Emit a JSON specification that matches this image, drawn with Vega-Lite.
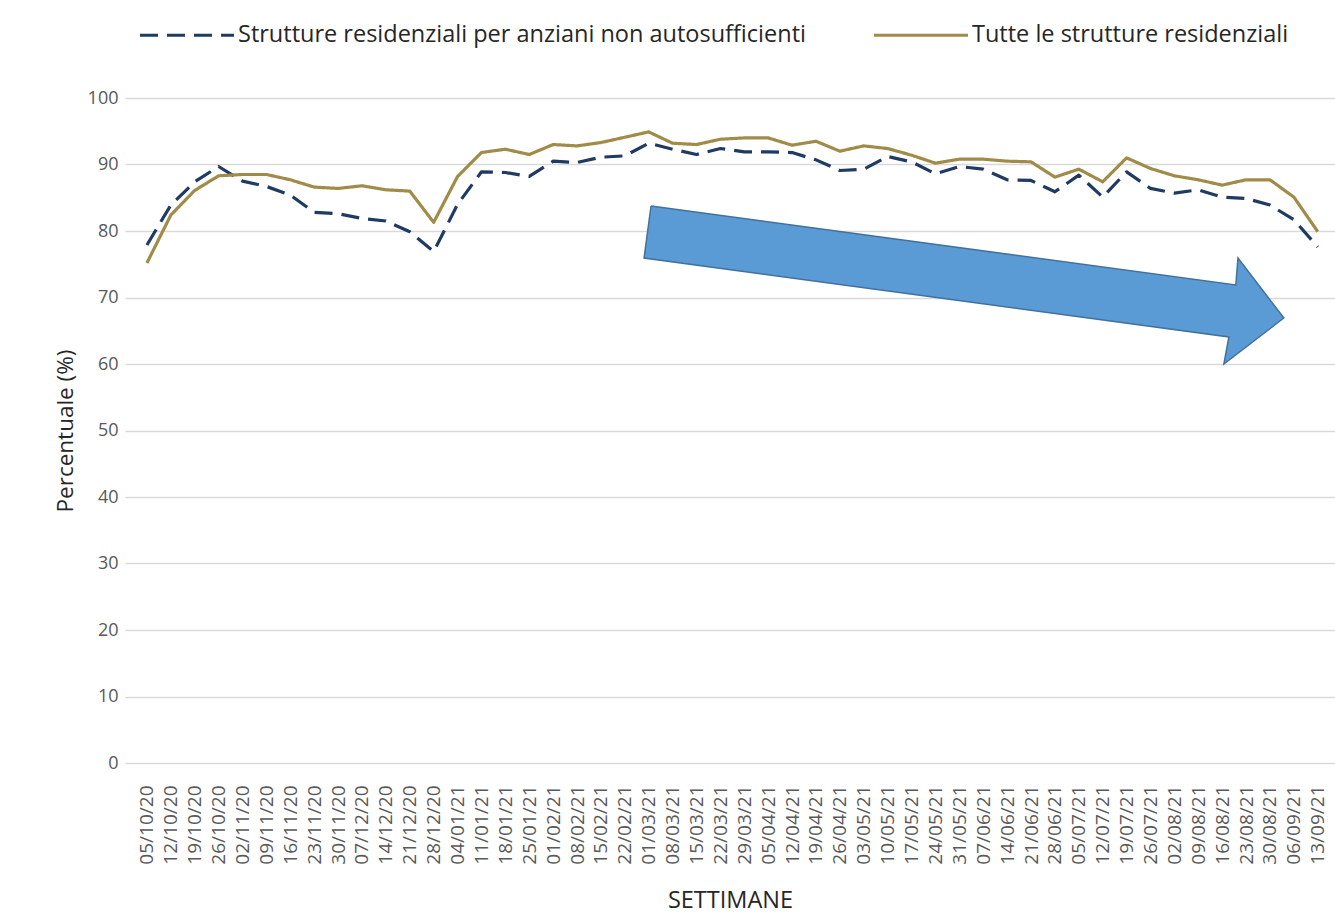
{
  "$schema": "https://vega.github.io/schema/vega-lite/v6.json",
  "width": 1210,
  "height": 665,
  "autosize": {"type": "none"},
  "padding": {"left": 125, "top": 98, "right": 0, "bottom": 156},
  "background": "white",
  "config": {"view": {"stroke": null}, "font": "Open Sans"},
  "datasets": {
    "serie": [
      {"settimana": "05/10/20", "serie": "Strutture residenziali per anziani non autosufficienti", "valore": 77.9},
      {"settimana": "12/10/20", "serie": "Strutture residenziali per anziani non autosufficienti", "valore": 83.9},
      {"settimana": "19/10/20", "serie": "Strutture residenziali per anziani non autosufficienti", "valore": 87.4},
      {"settimana": "26/10/20", "serie": "Strutture residenziali per anziani non autosufficienti", "valore": 89.7},
      {"settimana": "02/11/20", "serie": "Strutture residenziali per anziani non autosufficienti", "valore": 87.5},
      {"settimana": "09/11/20", "serie": "Strutture residenziali per anziani non autosufficienti", "valore": 86.7},
      {"settimana": "16/11/20", "serie": "Strutture residenziali per anziani non autosufficienti", "valore": 85.4},
      {"settimana": "23/11/20", "serie": "Strutture residenziali per anziani non autosufficienti", "valore": 82.8},
      {"settimana": "30/11/20", "serie": "Strutture residenziali per anziani non autosufficienti", "valore": 82.6},
      {"settimana": "07/12/20", "serie": "Strutture residenziali per anziani non autosufficienti", "valore": 81.9},
      {"settimana": "14/12/20", "serie": "Strutture residenziali per anziani non autosufficienti", "valore": 81.5},
      {"settimana": "21/12/20", "serie": "Strutture residenziali per anziani non autosufficienti", "valore": 79.9},
      {"settimana": "28/12/20", "serie": "Strutture residenziali per anziani non autosufficienti", "valore": 76.9},
      {"settimana": "04/01/21", "serie": "Strutture residenziali per anziani non autosufficienti", "valore": 84.0},
      {"settimana": "11/01/21", "serie": "Strutture residenziali per anziani non autosufficienti", "valore": 88.9},
      {"settimana": "18/01/21", "serie": "Strutture residenziali per anziani non autosufficienti", "valore": 88.8},
      {"settimana": "25/01/21", "serie": "Strutture residenziali per anziani non autosufficienti", "valore": 88.2},
      {"settimana": "01/02/21", "serie": "Strutture residenziali per anziani non autosufficienti", "valore": 90.5},
      {"settimana": "08/02/21", "serie": "Strutture residenziali per anziani non autosufficienti", "valore": 90.3},
      {"settimana": "15/02/21", "serie": "Strutture residenziali per anziani non autosufficienti", "valore": 91.1},
      {"settimana": "22/02/21", "serie": "Strutture residenziali per anziani non autosufficienti", "valore": 91.3},
      {"settimana": "01/03/21", "serie": "Strutture residenziali per anziani non autosufficienti", "valore": 93.2},
      {"settimana": "08/03/21", "serie": "Strutture residenziali per anziani non autosufficienti", "valore": 92.3},
      {"settimana": "15/03/21", "serie": "Strutture residenziali per anziani non autosufficienti", "valore": 91.5},
      {"settimana": "22/03/21", "serie": "Strutture residenziali per anziani non autosufficienti", "valore": 92.4},
      {"settimana": "29/03/21", "serie": "Strutture residenziali per anziani non autosufficienti", "valore": 91.9},
      {"settimana": "05/04/21", "serie": "Strutture residenziali per anziani non autosufficienti", "valore": 91.9},
      {"settimana": "12/04/21", "serie": "Strutture residenziali per anziani non autosufficienti", "valore": 91.8},
      {"settimana": "19/04/21", "serie": "Strutture residenziali per anziani non autosufficienti", "valore": 90.7},
      {"settimana": "26/04/21", "serie": "Strutture residenziali per anziani non autosufficienti", "valore": 89.1},
      {"settimana": "03/05/21", "serie": "Strutture residenziali per anziani non autosufficienti", "valore": 89.3},
      {"settimana": "10/05/21", "serie": "Strutture residenziali per anziani non autosufficienti", "valore": 91.2},
      {"settimana": "17/05/21", "serie": "Strutture residenziali per anziani non autosufficienti", "valore": 90.4},
      {"settimana": "24/05/21", "serie": "Strutture residenziali per anziani non autosufficienti", "valore": 88.6},
      {"settimana": "31/05/21", "serie": "Strutture residenziali per anziani non autosufficienti", "valore": 89.7},
      {"settimana": "07/06/21", "serie": "Strutture residenziali per anziani non autosufficienti", "valore": 89.3},
      {"settimana": "14/06/21", "serie": "Strutture residenziali per anziani non autosufficienti", "valore": 87.7},
      {"settimana": "21/06/21", "serie": "Strutture residenziali per anziani non autosufficienti", "valore": 87.6},
      {"settimana": "28/06/21", "serie": "Strutture residenziali per anziani non autosufficienti", "valore": 85.9},
      {"settimana": "05/07/21", "serie": "Strutture residenziali per anziani non autosufficienti", "valore": 88.4},
      {"settimana": "12/07/21", "serie": "Strutture residenziali per anziani non autosufficienti", "valore": 85.1},
      {"settimana": "19/07/21", "serie": "Strutture residenziali per anziani non autosufficienti", "valore": 88.9},
      {"settimana": "26/07/21", "serie": "Strutture residenziali per anziani non autosufficienti", "valore": 86.4},
      {"settimana": "02/08/21", "serie": "Strutture residenziali per anziani non autosufficienti", "valore": 85.7},
      {"settimana": "09/08/21", "serie": "Strutture residenziali per anziani non autosufficienti", "valore": 86.2},
      {"settimana": "16/08/21", "serie": "Strutture residenziali per anziani non autosufficienti", "valore": 85.1},
      {"settimana": "23/08/21", "serie": "Strutture residenziali per anziani non autosufficienti", "valore": 84.9},
      {"settimana": "30/08/21", "serie": "Strutture residenziali per anziani non autosufficienti", "valore": 83.9},
      {"settimana": "06/09/21", "serie": "Strutture residenziali per anziani non autosufficienti", "valore": 81.7},
      {"settimana": "13/09/21", "serie": "Strutture residenziali per anziani non autosufficienti", "valore": 77.6},
      {"settimana": "05/10/20", "serie": "Tutte le strutture residenziali", "valore": 75.2},
      {"settimana": "12/10/20", "serie": "Tutte le strutture residenziali", "valore": 82.4},
      {"settimana": "19/10/20", "serie": "Tutte le strutture residenziali", "valore": 86.1},
      {"settimana": "26/10/20", "serie": "Tutte le strutture residenziali", "valore": 88.3},
      {"settimana": "02/11/20", "serie": "Tutte le strutture residenziali", "valore": 88.5},
      {"settimana": "09/11/20", "serie": "Tutte le strutture residenziali", "valore": 88.5},
      {"settimana": "16/11/20", "serie": "Tutte le strutture residenziali", "valore": 87.7},
      {"settimana": "23/11/20", "serie": "Tutte le strutture residenziali", "valore": 86.6},
      {"settimana": "30/11/20", "serie": "Tutte le strutture residenziali", "valore": 86.4},
      {"settimana": "07/12/20", "serie": "Tutte le strutture residenziali", "valore": 86.8},
      {"settimana": "14/12/20", "serie": "Tutte le strutture residenziali", "valore": 86.2},
      {"settimana": "21/12/20", "serie": "Tutte le strutture residenziali", "valore": 86.0},
      {"settimana": "28/12/20", "serie": "Tutte le strutture residenziali", "valore": 81.3},
      {"settimana": "04/01/21", "serie": "Tutte le strutture residenziali", "valore": 88.2},
      {"settimana": "11/01/21", "serie": "Tutte le strutture residenziali", "valore": 91.8},
      {"settimana": "18/01/21", "serie": "Tutte le strutture residenziali", "valore": 92.3},
      {"settimana": "25/01/21", "serie": "Tutte le strutture residenziali", "valore": 91.5},
      {"settimana": "01/02/21", "serie": "Tutte le strutture residenziali", "valore": 93.0},
      {"settimana": "08/02/21", "serie": "Tutte le strutture residenziali", "valore": 92.8},
      {"settimana": "15/02/21", "serie": "Tutte le strutture residenziali", "valore": 93.3},
      {"settimana": "22/02/21", "serie": "Tutte le strutture residenziali", "valore": 94.1},
      {"settimana": "01/03/21", "serie": "Tutte le strutture residenziali", "valore": 94.9},
      {"settimana": "08/03/21", "serie": "Tutte le strutture residenziali", "valore": 93.2},
      {"settimana": "15/03/21", "serie": "Tutte le strutture residenziali", "valore": 93.0},
      {"settimana": "22/03/21", "serie": "Tutte le strutture residenziali", "valore": 93.8},
      {"settimana": "29/03/21", "serie": "Tutte le strutture residenziali", "valore": 94.0},
      {"settimana": "05/04/21", "serie": "Tutte le strutture residenziali", "valore": 94.0},
      {"settimana": "12/04/21", "serie": "Tutte le strutture residenziali", "valore": 92.9},
      {"settimana": "19/04/21", "serie": "Tutte le strutture residenziali", "valore": 93.5},
      {"settimana": "26/04/21", "serie": "Tutte le strutture residenziali", "valore": 92.0},
      {"settimana": "03/05/21", "serie": "Tutte le strutture residenziali", "valore": 92.8},
      {"settimana": "10/05/21", "serie": "Tutte le strutture residenziali", "valore": 92.4},
      {"settimana": "17/05/21", "serie": "Tutte le strutture residenziali", "valore": 91.4},
      {"settimana": "24/05/21", "serie": "Tutte le strutture residenziali", "valore": 90.2},
      {"settimana": "31/05/21", "serie": "Tutte le strutture residenziali", "valore": 90.8},
      {"settimana": "07/06/21", "serie": "Tutte le strutture residenziali", "valore": 90.8},
      {"settimana": "14/06/21", "serie": "Tutte le strutture residenziali", "valore": 90.5},
      {"settimana": "21/06/21", "serie": "Tutte le strutture residenziali", "valore": 90.4},
      {"settimana": "28/06/21", "serie": "Tutte le strutture residenziali", "valore": 88.1},
      {"settimana": "05/07/21", "serie": "Tutte le strutture residenziali", "valore": 89.3},
      {"settimana": "12/07/21", "serie": "Tutte le strutture residenziali", "valore": 87.4},
      {"settimana": "19/07/21", "serie": "Tutte le strutture residenziali", "valore": 91.0},
      {"settimana": "26/07/21", "serie": "Tutte le strutture residenziali", "valore": 89.4},
      {"settimana": "02/08/21", "serie": "Tutte le strutture residenziali", "valore": 88.3},
      {"settimana": "09/08/21", "serie": "Tutte le strutture residenziali", "valore": 87.7},
      {"settimana": "16/08/21", "serie": "Tutte le strutture residenziali", "valore": 86.9},
      {"settimana": "23/08/21", "serie": "Tutte le strutture residenziali", "valore": 87.7},
      {"settimana": "30/08/21", "serie": "Tutte le strutture residenziali", "valore": 87.7},
      {"settimana": "06/09/21", "serie": "Tutte le strutture residenziali", "valore": 85.1},
      {"settimana": "13/09/21", "serie": "Tutte le strutture residenziali", "valore": 79.9}
    ],
    "freccia": [
      {"ord": 1, "ax": 21.09, "ay": 83.76},
      {"ord": 2, "ax": 45.56, "ay": 71.88},
      {"ord": 3, "ax": 45.65, "ay": 75.94},
      {"ord": 4, "ax": 47.57, "ay": 66.92},
      {"ord": 5, "ax": 45.06, "ay": 60.0},
      {"ord": 6, "ax": 45.27, "ay": 64.06},
      {"ord": 7, "ax": 20.8, "ay": 75.94},
      {"ord": 8, "ax": 21.09, "ay": 83.76}
    ]
  },
  "layer": [
    {
      "data": {"name": "serie"},
      "mark": {"type": "line", "strokeWidth": 3.2, "strokeCap": "butt", "strokeJoin": "round"},
      "encoding": {
        "x": {
          "field": "settimana",
          "type": "ordinal",
          "sort": null,
          "scale": {"type": "point", "padding": 0.82, "align": 0.56},
          "axis": {
            "title": "SETTIMANE",
            "titleFont": "Open Sans",
            "titleFontSize": 23.5,
            "titleFontWeight": "normal",
            "titleColor": "#262626",
            "titlePadding": 24,
            "labelAngle": -90,
            "labelFont": "Open Sans",
            "labelFontSize": 19,
            "labelColor": "#595959",
            "labelPadding": 22,
            "labelOverlap": false,
            "domain": false,
            "ticks": false,
            "grid": false
          }
        },
        "y": {
          "field": "valore",
          "type": "quantitative",
          "scale": {"domain": [0, 100], "nice": false},
          "axis": {
            "values": [0, 10, 20, 30, 40, 50, 60, 70, 80, 90, 100],
            "title": "Percentuale (%)",
            "titleFont": "Open Sans",
            "titleFontSize": 22.5,
            "titleFontWeight": "normal",
            "titleColor": "#262626",
            "titlePadding": 10,
            "labelFont": "Open Sans",
            "labelFontSize": 18,
            "labelColor": "#595959",
            "labelPadding": 7,
            "domain": false,
            "ticks": false,
            "grid": true,
            "gridColor": "#d9d9d9",
            "gridWidth": 1.5
          }
        },
        "color": {
          "field": "serie",
          "type": "nominal",
          "scale": {
            "domain": ["Strutture residenziali per anziani non autosufficienti", "Tutte le strutture residenziali"],
            "range": ["#1f3b63", "#a08c48"]
          },
          "legend": {
            "title": null,
            "orient": "none",
            "legendX": 13,
            "legendY": -112,
            "direction": "horizontal",
            "symbolType": "stroke",
            "symbolSize": 8836,
            "symbolStrokeWidth": 3.2,
            "labelFont": "Open Sans",
            "labelFontSize": 23.5,
            "labelColor": "#262626",
            "labelOffset": 2,
            "labelLimit": 0,
            "columnPadding": 61
          }
        },
        "strokeDash": {
          "field": "serie",
          "type": "nominal",
          "scale": {
            "domain": ["Strutture residenziali per anziani non autosufficienti", "Tutte le strutture residenziali"],
            "range": [[18, 9], [1, 0]]
          },
          "legend": {
            "title": null,
            "orient": "none",
            "legendX": 13,
            "legendY": -112,
            "direction": "horizontal",
            "symbolType": "stroke",
            "symbolSize": 8836,
            "symbolStrokeWidth": 3.2,
            "labelFont": "Open Sans",
            "labelFontSize": 23.5,
            "labelColor": "#262626",
            "labelOffset": 2,
            "labelLimit": 0,
            "columnPadding": 61
          }
        }
      }
    },
    {
      "data": {"name": "freccia"},
      "mark": {"type": "line", "fill": "#5b9bd5", "stroke": "#41719c", "strokeWidth": 1.5, "strokeJoin": "miter"},
      "encoding": {
        "x": {"field": "ax", "type": "quantitative", "scale": {"domain": [-0.92, 49.71], "nice": false, "zero": false}, "axis": null},
        "y": {"field": "ay", "type": "quantitative", "scale": {"domain": [0, 100], "nice": false}, "axis": null},
        "order": {"field": "ord", "type": "quantitative"}
      }
    }
  ],
  "resolve": {"scale": {"x": "independent", "y": "independent"}}
}
